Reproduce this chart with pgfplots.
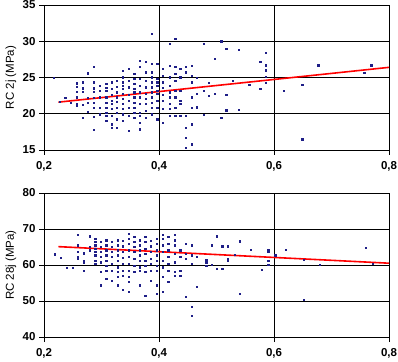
\documentclass[border=0pt]{standalone}
\usepackage{pgfplots}
\pgfplotsset{compat=1.18}
\usepackage{fontspec}
\setmainfont{Liberation Sans}
\definecolor{ptcol}{RGB}{30,30,135}
\pgfplotsset{
  myax/.style={
    scale only axis, width=345pt,
    xmin=0.2, xmax=0.8, xtick={0.2,0.4,0.6,0.8},
    grid=major, major grid style={black, line width=0.7pt},
    axis line style={black, line width=0.9pt},
    tick align=outside, major tick length=5pt,
    tick style={black, line width=0.7pt},
    xtick pos=bottom, ytick pos=left,
    tick label style={font=\fontsize{11.5}{13}\selectfont\bfseries},
    label style={font=\fontsize{11.5}{13}\selectfont},
    /pgf/number format/assume math mode=true,
    xticklabel style={/pgf/number format/.cd, use comma, fixed, fixed zerofill, precision=1},
    yticklabel style={/pgf/number format/.cd, fixed, precision=0},
    xticklabel shift=3pt,
    ylabel style={at={(axis description cs:0,0.5)}, anchor=center, rotate=0, yshift=33pt},
  },
  pts/.style={only marks, mark=square*, mark size=0.6pt, color=ptcol},
  fit/.style={red, line width=1.6pt, no marks},
}
\begin{document}
\begin{tikzpicture}
\path[use as bounding box] (0,0) rectangle (398pt,361pt);
\begin{axis}[myax, at={(44pt,211pt)}, anchor=south west, height=145pt,
  ymin=15, ymax=35, ytick={15,20,25,30,35}, ylabel={RC 2j (MPa)}]
\addplot[pts] coordinates {
(0.217,24.95)(0.227,21.71)(0.237,22.18)(0.247,21.53)
(0.257,24.21)(0.257,23.75)(0.257,23.06)(0.257,22.27)(0.257,21.34)(0.257,21.11)
(0.267,24.35)(0.267,23.52)(0.267,23.01)(0.267,21.25)(0.267,19.49)
(0.276,25.60)(0.276,22.18)(0.276,21.53)(0.276,20.32)
(0.287,26.44)(0.287,24.35)(0.287,23.52)(0.287,23.06)(0.287,22.22)(0.287,21.57)(0.287,20.88)(0.287,19.60)(0.287,17.82)
(0.297,23.84)(0.297,23.19)(0.297,22.27)(0.297,20.88)(0.297,19.95)
(0.308,24.12)(0.308,23.56)(0.308,23.19)(0.308,22.27)(0.308,21.57)(0.308,20.88)(0.308,20.19)(0.308,19.72)(0.308,19.03)
(0.318,24.35)(0.318,23.43)(0.318,22.64)(0.318,21.81)(0.318,21.34)(0.318,20.65)(0.318,19.72)(0.318,18.56)(0.318,18.10)
(0.326,24.58)(0.326,23.75)(0.326,22.96)(0.326,22.27)(0.326,21.67)(0.326,20.88)(0.326,20.19)(0.326,19.26)(0.326,18.10)
(0.337,25.97)(0.337,25.05)(0.337,24.35)(0.337,23.89)(0.337,23.43)(0.337,22.73)(0.337,22.04)(0.337,21.34)(0.337,20.65)(0.337,19.95)(0.337,19.03)
(0.347,26.20)(0.347,24.58)(0.347,23.66)(0.347,22.64)(0.347,21.81)(0.347,20.88)(0.347,19.72)(0.347,17.64)
(0.357,25.51)(0.357,24.81)(0.357,24.12)(0.357,23.43)(0.357,22.96)(0.357,22.27)(0.357,21.57)(0.357,20.88)(0.357,20.19)(0.357,19.49)
(0.367,27.36)(0.367,26.44)(0.367,24.81)(0.367,23.89)(0.367,22.96)(0.367,22.27)(0.367,21.34)(0.367,20.19)(0.367,19.72)(0.367,18.80)(0.367,17.87)
(0.377,27.13)(0.377,25.74)(0.377,24.58)(0.377,23.66)(0.377,22.73)(0.377,22.04)(0.377,21.34)(0.377,20.42)(0.377,19.49)
(0.387,31.06)(0.387,26.90)(0.387,25.74)(0.387,25.05)(0.387,24.35)(0.387,23.66)(0.387,22.96)(0.387,22.27)(0.387,21.57)(0.387,20.88)(0.387,19.95)
(0.397,26.90)(0.397,24.81)(0.397,24.35)(0.397,23.89)(0.397,23.19)(0.397,22.73)(0.397,21.81)(0.397,20.88)(0.397,19.26)
(0.407,26.20)(0.407,25.28)(0.407,24.35)(0.407,23.56)(0.407,22.64)(0.407,21.81)(0.407,20.65)(0.407,18.80)
(0.418,29.68)(0.418,26.67)(0.418,25.05)(0.418,23.89)(0.418,22.96)(0.418,22.27)(0.418,21.34)(0.418,20.65)(0.418,19.72)
(0.428,30.37)(0.428,26.44)(0.428,25.51)(0.428,24.58)(0.428,23.19)(0.428,22.27)(0.428,20.88)(0.428,19.72)
(0.437,26.20)(0.437,25.05)(0.437,23.19)(0.437,21.81)(0.437,21.34)(0.437,19.72)
(0.447,26.44)(0.447,25.74)(0.447,19.72)(0.447,18.10)(0.447,16.71)(0.447,15.32)
(0.457,26.67)(0.457,25.28)(0.457,24.35)(0.457,22.27)(0.457,20.88)(0.457,18.56)(0.457,15.79)
(0.466,25.00)(0.466,22.80)(0.466,20.90)
(0.478,29.7)(0.478,23.2)(0.478,19.9)(0.487,24.3)(0.487,22.5)(0.497,27.6)(0.497,22.8)
(0.508,30.0)(0.508,19.5)(0.517,29.0)(0.517,22.6)(0.517,20.5)(0.528,24.6)(0.538,28.8)(0.538,20.6)
(0.557,24.0)(0.576,27.2)(0.576,23.5)(0.586,28.4)(0.586,26.7)(0.586,26.0)(0.586,25.1)(0.586,24.3)
(0.617,23.2)(0.649,24.0)(0.649,16.5)(0.677,26.7)(0.757,25.7)(0.769,26.7)
};
\addplot[fit] coordinates {(0.225,21.6)(0.8,26.4)};
\end{axis}
\begin{axis}[myax, at={(44pt,24pt)}, anchor=south west, height=144pt,
  ymin=40, ymax=80, ytick={40,50,60,70,80}, ylabel={RC 28j (MPa)}]
\addplot[pts] coordinates {
(0.219,63.0)(0.229,62.0)(0.240,59.3)(0.250,59.3)
(0.259,68.4)(0.259,65.5)(0.259,63.6)(0.259,62.4)(0.259,61.8)
(0.269,63.3)(0.269,61.3)(0.269,60.6)(0.269,58.5)
(0.279,68.0)(0.279,65.0)(0.279,64.1)
(0.289,67.3)(0.289,66.4)(0.289,65.5)(0.289,64.5)(0.289,63.6)(0.289,62.7)(0.289,61.3)(0.289,60.4)
(0.299,66.4)(0.299,65.0)(0.299,63.6)(0.299,62.2)(0.299,60.8)(0.299,58.1)(0.299,54.4)
(0.308,66.9)(0.308,65.5)(0.308,64.1)(0.308,62.7)(0.308,61.3)(0.308,59.9)(0.308,58.5)(0.308,56.2)
(0.318,66.4)(0.318,65.0)(0.318,63.6)(0.318,62.2)(0.318,60.4)(0.318,58.5)(0.318,55.7)
(0.328,66.9)(0.328,65.5)(0.328,64.1)(0.328,62.7)(0.328,61.3)(0.328,59.4)(0.328,58.1)(0.328,56.7)(0.328,54.4)
(0.337,66.7)(0.337,65.2)(0.337,63.6)(0.337,62.0)(0.337,60.4)(0.337,58.5)(0.337,57.1)(0.337,53.1)
(0.347,68.7)(0.347,67.3)(0.347,65.9)(0.347,64.1)(0.347,62.2)(0.347,60.4)(0.347,58.5)(0.347,56.7)(0.347,55.3)(0.347,52.5)
(0.357,67.8)(0.357,66.4)(0.357,65.0)(0.357,63.6)(0.357,61.8)(0.357,59.9)(0.357,58.1)
(0.366,66.9)(0.366,65.5)(0.366,64.1)(0.366,62.7)(0.366,61.3)(0.366,59.4)(0.366,58.5)(0.366,54.4)
(0.376,67.8)(0.376,66.4)(0.376,64.5)(0.376,63.1)(0.376,61.3)(0.376,59.9)(0.376,58.1)(0.376,51.4)
(0.386,66.7)(0.386,65.2)(0.386,63.6)(0.386,61.8)(0.386,60.4)(0.386,58.5)(0.386,55.7)
(0.396,67.3)(0.396,65.9)(0.396,64.1)(0.396,62.7)(0.396,61.3)(0.396,59.9)(0.396,58.5)(0.396,54.4)(0.396,52.0)
(0.406,68.5)(0.406,67.3)(0.406,65.5)(0.406,63.6)(0.406,61.3)(0.406,59.4)(0.406,56.7)(0.406,52.5)
(0.416,67.8)(0.416,65.9)(0.416,64.1)(0.416,62.2)(0.416,60.4)(0.416,58.5)(0.416,55.3)
(0.427,68.5)(0.427,66.9)(0.427,65.5)(0.427,63.1)(0.427,60.8)(0.427,58.1)(0.427,57.1)
(0.437,64.1)(0.437,62.2)(0.437,58.5)(0.437,57.1)
(0.447,65.9)(0.447,63.1)(0.447,61.8)(0.447,51.1)
(0.457,65.5)(0.457,62.7)(0.457,60.4)(0.457,48.5)(0.457,46.0)
(0.466,62.2)(0.466,53.9)
(0.482,61.5)(0.482,60.8)(0.482,59.9)(0.492,65.5)(0.492,60.1)(0.500,68.0)(0.500,58.9)
(0.510,65.2)(0.510,58.9)(0.519,65.2)(0.519,61.7)(0.519,61.1)(0.532,62.9)(0.541,66.6)(0.541,52.1)
(0.560,64.3)(0.579,58.7)(0.590,64.1)(0.590,63.6)(0.590,61.3)(0.590,60.1)(0.602,62.7)
(0.621,64.3)(0.651,61.5)(0.651,50.3)(0.680,60.1)(0.760,64.8)(0.771,60.3)
};
\addplot[fit] coordinates {(0.225,65.1)(0.8,60.5)};
\end{axis}
\end{tikzpicture}
\end{document}
